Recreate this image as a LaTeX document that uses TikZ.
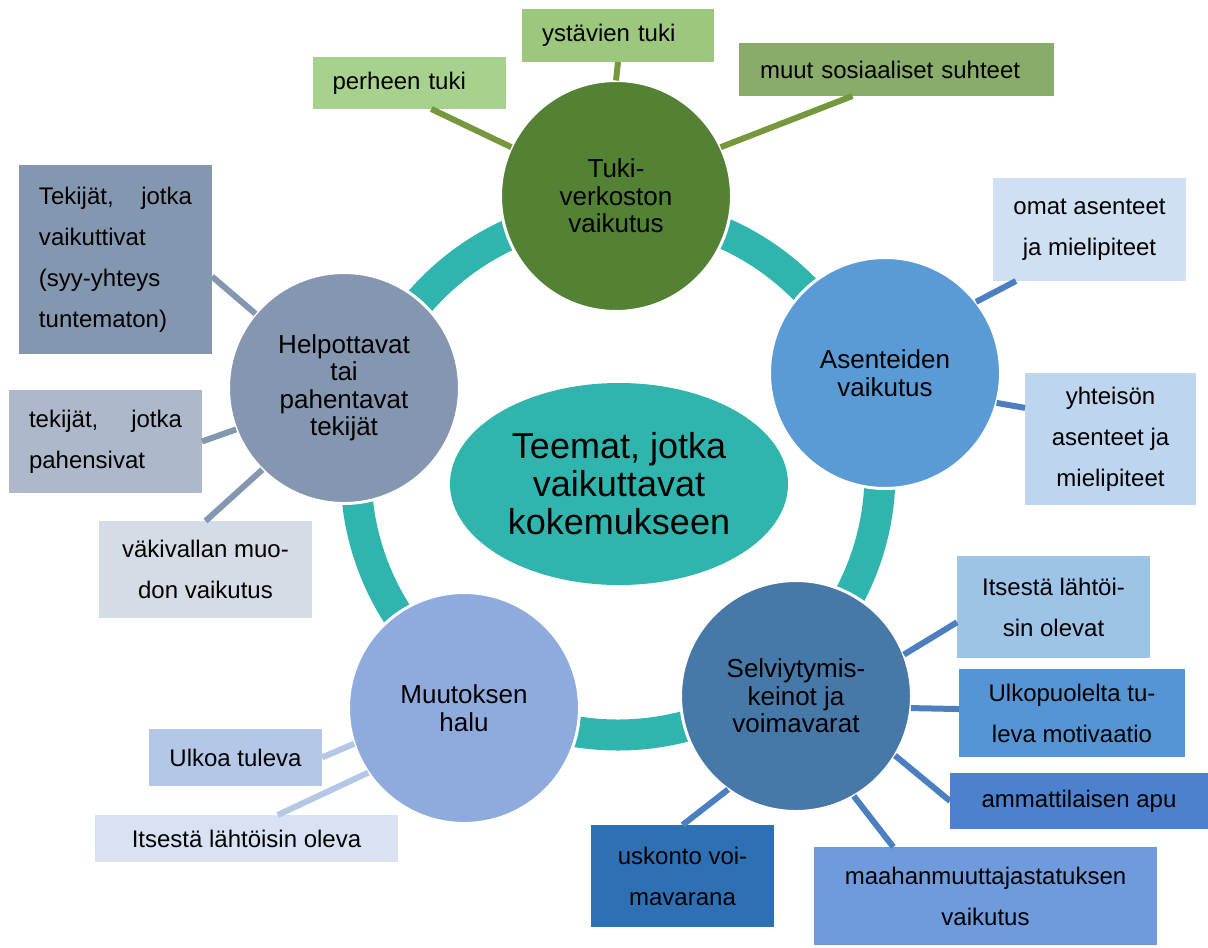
\documentclass[tikz,border=0pt]{standalone}
\usepackage{fontspec}
\setmainfont{Liberation Sans}
\usepackage{tikz}
\usetikzlibrary{shapes.geometric}
\definecolor{ringteal}{HTML}{2FB5AD}
\definecolor{tukigreen}{HTML}{548235}
\definecolor{perheengreen}{HTML}{A9D18E}
\definecolor{ystavgreen}{HTML}{9DC77C}
\definecolor{muutgreen}{HTML}{8AAC6B}
\definecolor{greenlink}{HTML}{77973C}
\definecolor{asenneblue}{HTML}{5B9BD5}
\definecolor{omatblue}{HTML}{CFE0F2}
\definecolor{yhteisoblue}{HTML}{BDD5EE}
\definecolor{selvblue}{HTML}{4678A8}
\definecolor{itseblue}{HTML}{9DC3E6}
\definecolor{ulkoblue}{HTML}{5595D3}
\definecolor{ammattiblue}{HTML}{4D81CD}
\definecolor{maahanblue}{HTML}{6F9BDD}
\definecolor{uskontoblue}{HTML}{2E70B4}
\definecolor{bluelink}{HTML}{4C7FC1}
\definecolor{muutosblue}{HTML}{8FAADC}
\definecolor{ulkoablue}{HTML}{B4C7E7}
\definecolor{lahtoblue}{HTML}{D9E2F3}
\definecolor{helpgrey}{HTML}{8496B0}
\definecolor{tekijagrey}{HTML}{8497B0}
\definecolor{pahengrey}{HTML}{ADB9CA}
\definecolor{vakigrey}{HTML}{D6DCE5}
\tikzstyle{theme} = [circle, minimum size=115.5pt, inner sep=0pt, outer sep=0pt, draw=white, line width=1.5pt, align=center, font=\fontsize{13}{13.75}\selectfont]
\tikzstyle{subtheme} = [rectangle, inner sep=0pt, outer sep=0pt, align=center, font=\fontsize{12}{20.5}\selectfont]
\tikzstyle{ring} = [draw=ringteal, line width=15.5pt]
\tikzstyle{link} = [line width=3pt]

\begin{document}
\begin{tikzpicture}[x=0.5pt, y=-0.5pt]
				\fill[white] (0,0) rectangle (1208,947);
				\useasboundingbox (0,0) rectangle (1208,947);
				
				\draw[ring] (618,473) circle[radius=131pt];
				
				\node(teemat) [ellipse, fill=ringteal, minimum width=169pt, minimum height=101pt, inner sep=0pt, align=center, font=\fontsize{18}{19}\selectfont] at (619,484) {Teemat, jotka\\vaikuttavat\\kokemukseen};
				
				\node(tuki) [theme, fill=tukigreen] at (616,196) {Tuki-\\verkoston\\vaikutus};
				\node(asenteet) [theme, fill=asenneblue] at (885,373) {Asenteiden\\vaikutus};
				\node(selviytyminen) [theme, fill=selvblue] at (796,696) {Selviytymis-\\keinot ja\\voimavarat};
				\node(muutos) [theme, fill=muutosblue] at (464,708) {Muutoksen\\halu};
				\node(helpottavat) [theme, fill=helpgrey] at (344,388) {Helpottavat\\tai\\pahentavat\\tekijät};
				
				\node(perheen) [subtheme, fill=perheengreen, minimum width=96.5pt, minimum height=26pt, text width=77pt, align=left] at (409.5,83) {perheen tuki};
				\node(ystavien) [subtheme, fill=ystavgreen, minimum width=96pt, minimum height=26.5pt, text width=76pt, align=left] at (618,35.5) {ystävien tuki};
				\node(muut) [subtheme, fill=muutgreen, minimum width=157.5pt, minimum height=26.5pt, text width=136.5pt, align=left] at (896.5,69.5) {muut sosiaaliset suhteet};
				
				\node(omat) [subtheme, fill=omatblue, minimum width=96.5pt, minimum height=51.5pt] at (1089.5,229.5) {omat asenteet\\ja mielipiteet};
				\node(yhteiso) [subtheme, fill=yhteisoblue, minimum width=85.5pt, minimum height=66pt] at (1110.5,439) {yhteisön\\asenteet ja\\mielipiteet};
				
				\node(itse) [subtheme, fill=itseblue, minimum width=96.5pt, minimum height=51pt] at (1053.5,607) {Itsestä lähtöi-\\sin olevat};
				\node(ulko) [subtheme, fill=ulkoblue, minimum width=113pt, minimum height=44pt] at (1072,713) {Ulkopuolelta tu-\\leva motivaatio};
				\node(ammatti) [subtheme, fill=ammattiblue, minimum width=129pt, minimum height=28pt] at (1079,801) {ammattilaisen apu};
				\node(maahan) [subtheme, fill=maahanblue, minimum width=171.5pt, minimum height=49pt] at (985.5,896) {maahanmuuttajastatuksen\\vaikutus};
				\node(uskonto) [subtheme, fill=uskontoblue, minimum width=91.5pt, minimum height=51pt] at (682.5,876) {uskonto voi-\\mavarana};
				
				\node(ulkoa) [subtheme, fill=ulkoablue, minimum width=86.5pt, minimum height=28.5pt] at (235.5,757.5) {Ulkoa tuleva};
				\node(lahtoisin) [subtheme, fill=lahtoblue, minimum width=151.5pt, minimum height=23.5pt] at (246.5,838.5) {Itsestä lähtöisin oleva};
				
				\node(tekijat) [subtheme, fill=tekijagrey, minimum width=96.5pt, minimum height=94.5pt, text width=76.5pt, align=left] at (115.5,259.5) {Tekijät,\hfill jotka\\vaikuttivat\\(syy-yhteys\\tuntematon)};
				\node(pahensivat) [subtheme, fill=pahengrey, minimum width=96.5pt, minimum height=51.5pt, text width=76.5pt, align=left] at (105.5,441.5) {tekijät,\hfill jotka\\pahensivat};
				\node(vakivalta) [subtheme, fill=vakigrey, minimum width=106.5pt, minimum height=48.5pt] at (205.5,569.5) {väkivallan muo-\\don vaikutus};
				
				\draw[link, greenlink] (tuki.155) -- (perheen.-50);
				\draw[link, greenlink] (tuki.north) -- (ystavien.south);
				\draw[link, greenlink] (tuki.25) -- (muut.-149);
				\draw[link, bluelink] (asenteet.38) -- (omat.-145);
				\draw[link, bluelink] (asenteet.-15) -- (yhteiso.160);
				\draw[link, bluelink] (selviytyminen.21) -- (itse.-171);
				\draw[link, bluelink] (selviytyminen.-6) -- (ulko.178);
				\draw[link, bluelink] (selviytyminen.-31) -- (ammatti.west);
				\draw[link, bluelink] (selviytyminen.-60) -- (maahan.152);
				\draw[link, bluelink] (selviytyminen.-126) -- (uskonto.north);
				\draw[link, ulkoablue] (muutos.-162) -- (ulkoa.east);
				\draw[link, ulkoablue] (muutos.-146) -- (lahtoisin.37);
				\draw[link, tekijagrey] (helpottavat.140) -- (tekijat.-10);
				\draw[link, tekijagrey] (helpottavat.-159) -- (pahensivat.east);
				\draw[link, tekijagrey] (helpottavat.-135) -- (vakivalta.north);
			\end{tikzpicture}
\end{document}
